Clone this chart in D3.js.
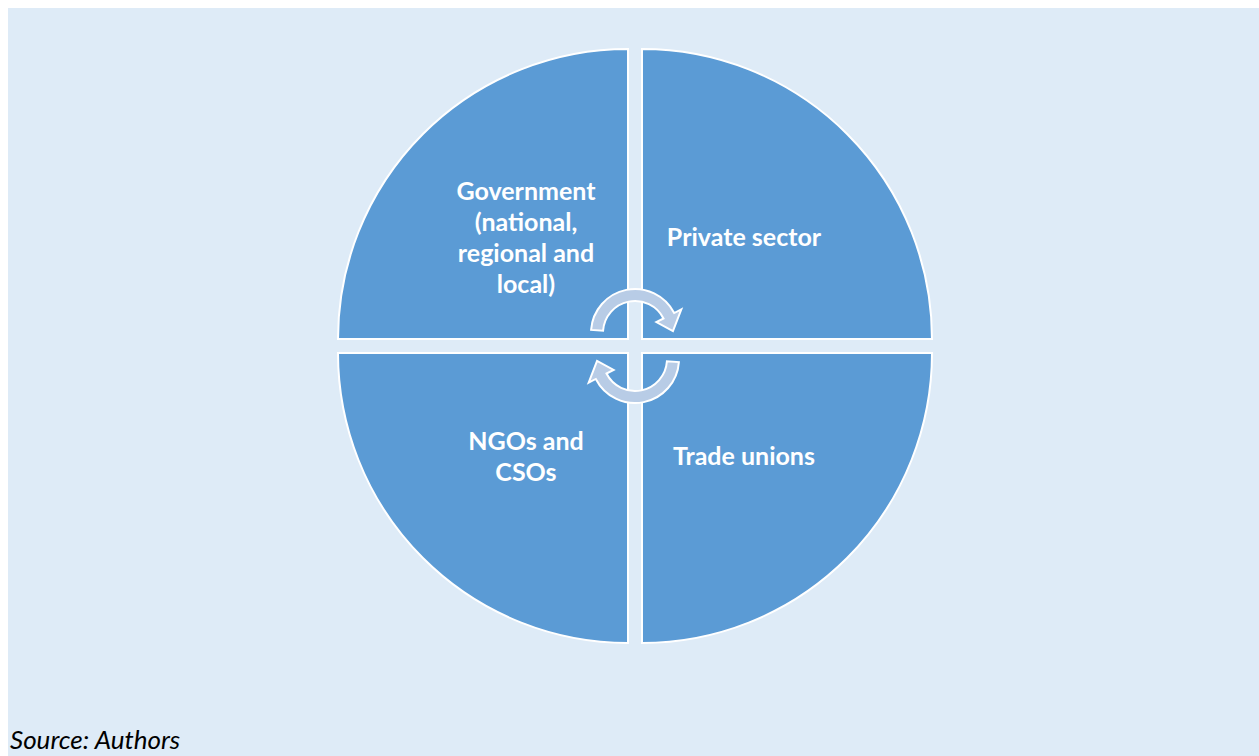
<!DOCTYPE html>
<html>
<head>
<meta charset="utf-8">
<script src="https://cdn.jsdelivr.net/npm/d3@7"></script>
<style>
  html, body { margin: 0; padding: 0; background: #fff; }
  svg { display: block; }
</style>
</head>
<body>
<div id="chart"></div>
<script>
// quadrants, clockwise from top-right
var sectors = ['Private sector', 'Trade unions', 'NGOs and CSOs', 'Government'];
var sectorLines = [
  ['Private sector'],
  ['Trade unions'],
  ['NGOs and', 'CSOs'],
  ['Government', '(national,', 'regional and', 'local)']
];
var sourceNote = 'Source: Authors';

var width = 1259, height = 756;
var cx = 635, cy = 346,
  gap = 7,
  radius = 290,
  fillColor = '#5b9bd5',
  bgColor = '#deebf7',
  arrowColor = '#b8cce6';

var svg = d3.select('#chart').append('svg')
  .attr('width', width)
  .attr('height', height);

svg.append('rect')
  .attr('x', 8).attr('y', 8)
  .attr('width', width - 8).attr('height', height - 8)
  .style('fill', bgColor);

var angle = d3.scaleLinear().domain([0, 4]).range([0, Math.PI * 2]);

var arc = d3.arc()
  .innerRadius(0)
  .outerRadius(radius)
  .startAngle(function(d, i) { return angle(i); })
  .endAngle(function(d, i) { return angle(i + 1); });

// corner offset of each quarter away from the centre
function offset(i) {
  var mid = angle(i + 0.5);
  return [Math.sign(Math.sin(mid)) * gap, -Math.sign(Math.cos(mid)) * gap];
}

var g = svg.append('g');

g.selectAll('path.sector')
  .data(sectors)
  .enter().append('path')
  .attr('class', 'sector')
  .attr('transform', function(d, i) {
    var o = offset(i);
    return 'translate(' + (cx + o[0]) + ',' + (cy + o[1]) + ')';
  })
  .attr('d', arc)
  .style('fill', fillColor)
  .style('stroke', '#fff')
  .style('stroke-width', 2);

// label anchors inside each quarter
var labelX = d3.scaleOrdinal().domain(sectors).range([744, 744, 526, 526]);
var labelY = d3.scaleOrdinal().domain(sectors).range([236, 455, 455, 236]);
var lineH = 31;

var labels = g.selectAll('text.label')
  .data(sectors)
  .enter().append('text')
  .attr('class', 'label')
  .attr('x', function(d) { return labelX(d); })
  .attr('y', function(d, i) {
    return labelY(d) - (sectorLines[i].length - 1) * lineH / 2;
  })
  .style('text-anchor', 'middle')
  .style('dominant-baseline', 'central')
  .style('fill', '#fff')
  .style('font-family', 'Lato, "Open Sans", sans-serif')
  .style('font-weight', 'bold')
  .style('font-size', '25px');

labels.selectAll('tspan')
  .data(function(d, i) { return sectorLines[i]; })
  .enter().append('tspan')
  .attr('x', function() { return d3.select(this.parentNode).attr('x'); })
  .attr('dy', function(d, j) { return j === 0 ? 0 : lineH; })
  .text(function(d) { return d; });

// circular arrows in the centre
var rIn = 32, rOut = 44, barb = 8;
function rad(deg) { return deg * Math.PI / 180; }
function pt(x, y, r, a) { return [x + r * Math.cos(a), y + r * Math.sin(a)]; }

function arrowPath(x, y, a0, a1) {
  var p = d3.path();
  var s = pt(x, y, rOut, a0);
  p.moveTo(s[0], s[1]);
  p.arc(x, y, rOut, a0, a1, false);
  var b1 = pt(x, y, rOut + barb, a1),
    tip = pt(x, y, (rIn + rOut) / 2, a1 + rad(24)),
    b2 = pt(x, y, rIn - barb, a1),
    e = pt(x, y, rIn, a1);
  p.lineTo(b1[0], b1[1]);
  p.lineTo(tip[0], tip[1]);
  p.lineTo(b2[0], b2[1]);
  p.lineTo(e[0], e[1]);
  p.arc(x, y, rIn, a1, a0, true);
  p.closePath();
  return p.toString();
}

var arrows = [
  { x: cx, y: cy - 13, a0: rad(184), a1: rad(333) },
  { x: cx, y: cy + 13, a0: rad(4), a1: rad(153) }
];

g.selectAll('path.arrow')
  .data(arrows)
  .enter().append('path')
  .attr('class', 'arrow')
  .attr('d', function(d) { return arrowPath(d.x, d.y, d.a0, d.a1); })
  .style('fill', arrowColor)
  .style('stroke', '#fff')
  .style('stroke-width', 2)
  .style('stroke-linejoin', 'miter');

svg.append('text')
  .attr('x', 10)
  .attr('y', 749)
  .text(sourceNote)
  .style('fill', '#000')
  .style('font-family', 'Lato, "Open Sans", sans-serif')
  .style('font-style', 'italic')
  .style('font-size', '26px');
</script>
</body>
</html>
